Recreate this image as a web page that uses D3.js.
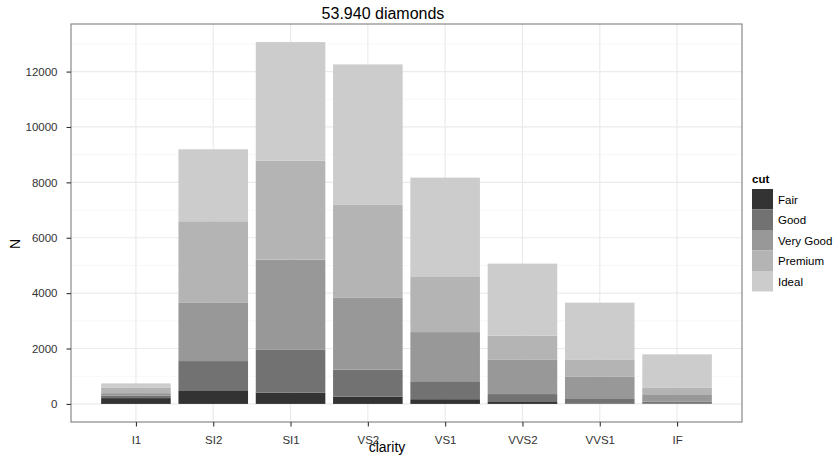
<!DOCTYPE html>
<html><head><meta charset="utf-8">
<script src="https://cdn.jsdelivr.net/npm/d3@7"></script>
<style>body{margin:0;background:#fff}svg{display:block;font-family:"Liberation Sans",Arial,sans-serif}</style>
</head><body><svg id="c" width="837" height="456"></svg>
<script>
const clarity = ["I1","SI2","SI1","VS2","VS1","VVS2","VVS1","IF"];
const cuts = ["Fair","Good","Very Good","Premium","Ideal"];
const fair     = [210, 466, 408, 261, 170,  69,  17,    9];
const good     = [ 96,1081,1560, 978, 648, 286, 186,   71];
const veryGood = [ 84,2100,3240,2591,1775,1235, 789,  268];
const premium  = [205,2949,3575,3357,1989, 870, 616,  230];
const ideal    = [146,2598,4282,5071,3589,2606,2047, 1212];
const yTicks = [0,2000,4000,6000,8000,10000,12000];
const yMinor = [1000,3000,5000,7000,9000,11000,13000];
const fills = ["#333333","#727272","#989898","#B4B4B4","#CCCCCC"];
const title = "53.940 diamonds";

const series = [fair, good, veryGood, premium, ideal];
const rows = clarity.map((c,i)=>{const r={clarity:c}; cuts.forEach((k,j)=>r[k]=series[j][i]); return r;});
const stacked = d3.stack().keys(cuts)(rows);

const svg = d3.select("#c");
const L=71, R=742, T=24, B=422;
const maxN = d3.max(rows, r=>d3.sum(cuts, k=>r[k]));
const ex = maxN*0.05;
const y = d3.scaleLinear().domain([-ex, maxN+ex]).range([B,T]);
const x = d3.scalePoint().domain(clarity).range([L,R]).padding(0.84);
const bw = x.step()*0.9;

// panel
svg.append("rect").attr("x",L).attr("y",T).attr("width",R-L).attr("height",B-T).attr("fill","#fff");
const g = svg.append("g");
g.selectAll(".mn").data(yMinor.filter(v=>y(v)>T)).join("line")
 .attr("x1",L).attr("x2",R).attr("y1",d=>y(d)).attr("y2",d=>y(d)).attr("stroke","#f7f7f7").attr("stroke-width",1);
g.selectAll(".mj").data(yTicks).join("line")
 .attr("x1",L).attr("x2",R).attr("y1",d=>y(d)).attr("y2",d=>y(d)).attr("stroke","#ebebeb").attr("stroke-width",1.2);
g.selectAll(".mx").data(clarity).join("line")
 .attr("y1",T).attr("y2",B).attr("x1",d=>x(d)).attr("x2",d=>x(d)).attr("stroke","#ebebeb").attr("stroke-width",1.2);

// bars
svg.append("g").selectAll("g").data(stacked).join("g").attr("fill",(d,i)=>fills[i])
 .selectAll("rect").data(d=>d).join("rect")
 .attr("x",d=>x(d.data.clarity)-bw/2).attr("width",bw)
 .attr("y",d=>y(d[1])).attr("height",d=>y(d[0])-y(d[1]));

svg.append("rect").attr("x",L).attr("y",T).attr("width",R-L).attr("height",B-T)
 .attr("fill","none").attr("stroke","#7f7f7f").attr("stroke-width",1.1);

// axes
const ya = svg.append("g").attr("transform",`translate(${L},0)`)
 .call(d3.axisLeft(y).tickValues(yTicks).tickSize(4.5).tickPadding(9).tickFormat(d3.format("d")));
const xa = svg.append("g").attr("transform",`translate(0,${B})`)
 .call(d3.axisBottom(x).tickSize(4.5).tickPadding(9));
[ya,xa].forEach(a=>{a.select(".domain").remove();
 a.selectAll(".tick line").attr("stroke","#333").attr("stroke-width",1.1);
 a.selectAll("text").attr("fill","#333").attr("font-size","11.5px").attr("font-family","Liberation Sans, Arial, sans-serif");});

// titles
svg.append("text").attr("x",383).attr("y",18.5).attr("text-anchor","middle").attr("font-size","16px").attr("fill","#000").text(title);
svg.append("text").attr("x",387).attr("y",452).attr("text-anchor","middle").attr("font-size","14px").attr("fill","#000").text("clarity");
svg.append("text").attr("transform","translate(20,244) rotate(-90)").attr("text-anchor","middle").attr("font-size","14px").attr("fill","#000").text("N");

// legend
const lg = svg.append("g").attr("transform","translate(752,189)");
lg.append("text").attr("x",0).attr("y",-6).attr("font-size","11.5px").attr("font-weight","bold").text("cut");
cuts.forEach((c,i)=>{
  lg.append("rect").attr("x",0).attr("y",i*20.5).attr("width",21).attr("height",20.5).attr("fill",fills[i]);
  lg.append("text").attr("x",26).attr("y",i*20.5+14.5).attr("font-size","11.5px").attr("fill","#000").text(c);
});
</script></body></html>
